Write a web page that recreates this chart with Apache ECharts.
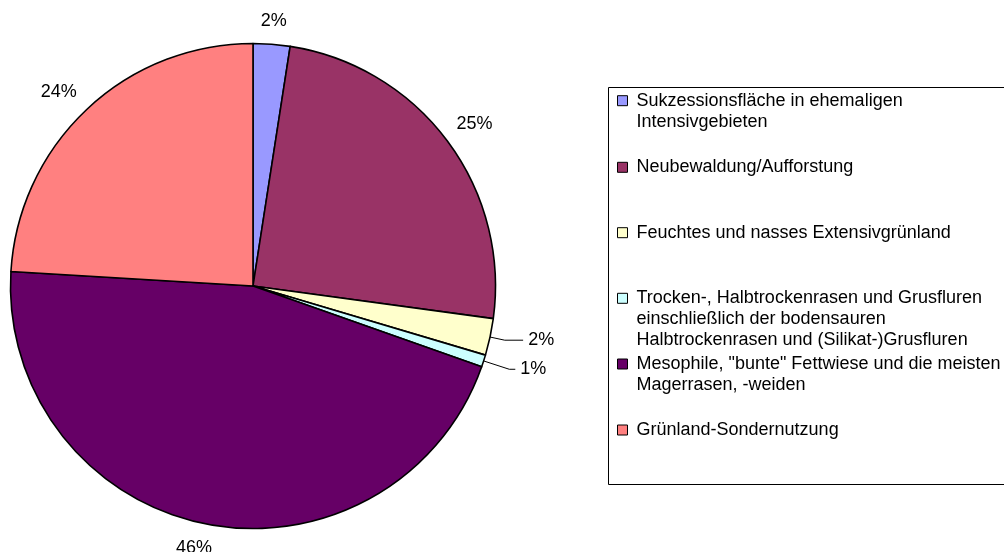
<!DOCTYPE html>
<html>
<head>
<meta charset="utf-8">
<script src="https://cdn.jsdelivr.net/npm/echarts@6/dist/echarts.min.js"></script>
<style>html,body{margin:0;padding:0;background:#fff;}#c{width:1004px;height:552px;}</style>
</head>
<body>
<div id="c"></div>
<script>
// ---- data ----
var categories = [
  'Sukzessionsfläche in ehemaligen Intensivgebieten',
  'Neubewaldung/Aufforstung',
  'Feuchtes und nasses Extensivgrünland',
  'Trocken-, Halbtrockenrasen und Grusfluren einschließlich der bodensauren Halbtrockenrasen und (Silikat-)Grusfluren',
  'Mesophile, "bunte" Fettwiese und die meisten Magerrasen, -weiden',
  'Grünland-Sondernutzung'
];
var values = [2.45, 24.7, 2.45, 0.8, 45.55, 24.05];
var legendLines = [
  ['Sukzessionsfläche in ehemaligen', 'Intensivgebieten'],
  ['Neubewaldung/Aufforstung'],
  ['Feuchtes und nasses Extensivgrünland'],
  ['Trocken-, Halbtrockenrasen und Grusfluren', 'einschließlich der bodensauren', 'Halbtrockenrasen und (Silikat-)Grusfluren'],
  ['Mesophile, "bunte" Fettwiese und die meisten', 'Magerrasen, -weiden'],
  ['Grünland-Sondernutzung']
];

// ---- styles / layout ----
var colors = ['#9999FF', '#993366', '#FFFFCC', '#CCFFFF', '#660066', '#FF8080'];
var labelGeo = [
  {show: false, len: 23.5, len2: -17.7},
  {show: false, len: 28.5, len2: -18.7},
  {show: true,  len: 15,   len2: 18.4},
  {show: true,  len: 27,   len2: 6},
  {show: false, len: 24.8, len2: -17},
  {show: false, len: 24.4, len2: -11.7}
];
var legendLineCenters = [100.7, 167.3, 232.7, 298.3, 364, 430];
var LH = 21;
var FONT = 'Liberation Sans, Arial, sans-serif';

var data = categories.map(function (n, i) {
  return {
    name: n,
    value: values[i],
    itemStyle: {color: colors[i]},
    labelLine: {show: labelGeo[i].show, length: labelGeo[i].len, length2: labelGeo[i].len2}
  };
});

var legends = categories.map(function (n, i) {
  var lines = legendLines[i];
  var k = lines.length;
  var pad = [];
  for (var j = 0; j < k - 1; j++) pad.push('');
  var txt = pad.concat(lines).join('\n');
  return {
    show: true,
    left: 617,
    top: legendLineCenters[i] - (2 * k - 1) * LH / 2,
    orient: 'vertical',
    padding: 0,
    icon: 'rect',
    itemWidth: 10,
    itemHeight: 10,
    selectedMode: false,
    data: [n],
    itemStyle: {borderColor: '#000', borderWidth: 1},
    formatter: function () { return txt; },
    textStyle: {fontFamily: FONT, fontSize: 18, color: '#000', lineHeight: LH, padding: [0, 0, 0, 4]}
  };
});

var chart = echarts.init(document.getElementById('c'), null, {renderer: 'canvas'});
chart.setOption({
  animation: false,
  backgroundColor: '#fff',
  legend: legends,
  graphic: [{
    type: 'rect', z: -1, silent: true,
    shape: {x: 608.5, y: 87.5, width: 420, height: 397},
    style: {fill: 'none', stroke: '#000', lineWidth: 1}
  }],
  series: [{
    type: 'pie',
    center: [253, 286],
    radius: 242.5,
    startAngle: 90,
    clockwise: true,
    avoidLabelOverlap: false,
    data: data,
    itemStyle: {borderColor: '#000', borderWidth: 1.6},
    label: {
      show: true,
      position: 'outside',
      fontFamily: FONT,
      fontSize: 18,
      color: '#000',
      distanceToLabelLine: 5,
      formatter: function (p) { return Math.round(p.percent) + '%'; }
    },
    labelLine: {lineStyle: {color: '#000', width: 1}, smooth: false},
    emphasis: {disabled: true},
    silent: true
  }]
});
</script>
</body>
</html>
